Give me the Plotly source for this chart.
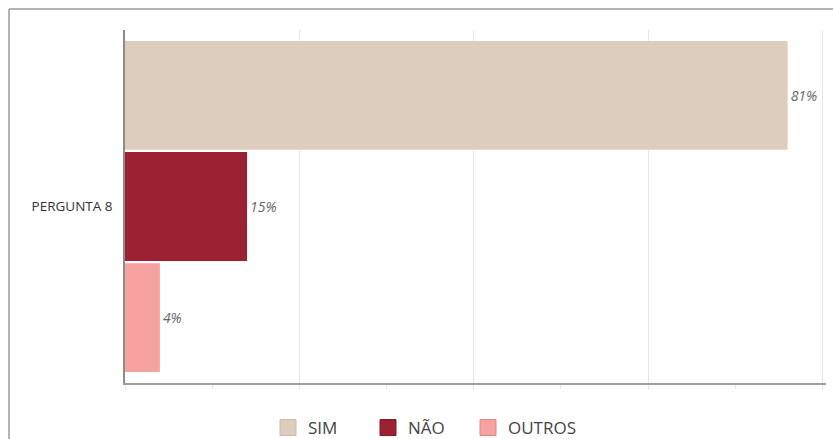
import plotly.graph_objects as go

# Respostas à pergunta 8 (número de respondentes por opção)
pergunta = ["PERGUNTA 8"]
opcoes = ["SIM", "NÃO", "OUTROS"]
respostas = [38, 7, 2]
cores = ["#DDCDBD", "#9B2133", "#F6A2A0"]
bordas_legenda = ["#C9BDB0", "#7E1A29", "#D98886"]
larguras_legenda = [55, 55, 90]

total = sum(respostas)
percentuais = [round(100 * v / total) for v in respostas]

FONT = "Open Sans, Noto Sans, sans-serif"

fig = go.Figure()
for nome, valor, pct, cor in zip(opcoes, respostas, percentuais, cores):
    fig.add_trace(go.Bar(
        name=nome,
        y=pergunta,
        x=[valor],
        orientation="h",
        marker=dict(color=cor, line=dict(width=0)),
        text=[f"<i>{pct}%</i>"],
        textposition="outside",
        textfont=dict(family=FONT, size=14, color="#666666"),
        cliponaxis=False,
        showlegend=False,
    ))

# entradas da legenda com quadrados maiores
for nome, cor, borda, larg in zip(opcoes, cores, bordas_legenda, larguras_legenda):
    fig.add_trace(go.Scatter(
        name=nome,
        x=[None], y=[None],
        mode="markers",
        marker=dict(symbol="square", size=20, color=cor, line=dict(color=borda, width=1)),
        showlegend=True,
        legendwidth=larg,
        hoverinfo="skip",
    ))

# moldura do gráfico (linhas superior e esquerda)
L, R, T, B = 125, 7, 30, 56
W, H = 833, 439
pw, ph = W - L - R, H - T - B
fx = (9 - L) / pw
fy = 1 + (T - 9) / ph
frame = dict(type="line", xref="paper", yref="paper",
             line=dict(color="#B3B3B3", width=2))
fig.add_shape(**frame, x0=fx, x1=fx, y0=-0.3, y1=fy)
fig.add_shape(**frame, x0=fx, x1=1.2, y0=fy, y1=fy)

fig.update_layout(
    width=W, height=H,
    margin=dict(l=L, r=R, t=T, b=B, autoexpand=False),
    paper_bgcolor="white",
    plot_bgcolor="white",
    barmode="group",
    bargap=0.056,
    bargroupgap=0.02,
    font=dict(family=FONT, color="#444444"),
    legend=dict(
        orientation="h",
        x=(268 - L) / pw, xanchor="left",
        y=-(428 - (H - B)) / ph, yanchor="middle",
        font=dict(family=FONT, size=17, color="#444444"),
        traceorder="normal",
        itemclick=False,
    ),
    xaxis=dict(
        range=[0, 40.2],
        dtick=10,
        showticklabels=False,
        showgrid=True,
        gridcolor="#E6E6E6",
        gridwidth=1,
        zeroline=False,
        showline=True,
        linecolor="#9E9E9E",
        linewidth=2,
        ticks="outside",
        ticklen=5,
        tickcolor="#E6E6E6",
        minor=dict(dtick=5, ticks="outside", ticklen=4, tickcolor="#E3E3E3", showgrid=False),
    ),
    yaxis=dict(
        autorange="reversed",
        showline=True,
        linecolor="#8C8C8C",
        linewidth=1.5,
        showgrid=False,
        zeroline=False,
        ticks="",
        ticklabelstandoff=8,
        tickfont=dict(family=FONT, size=13.5, color="#333333"),
    ),
)

fig.write_html("out.html")
